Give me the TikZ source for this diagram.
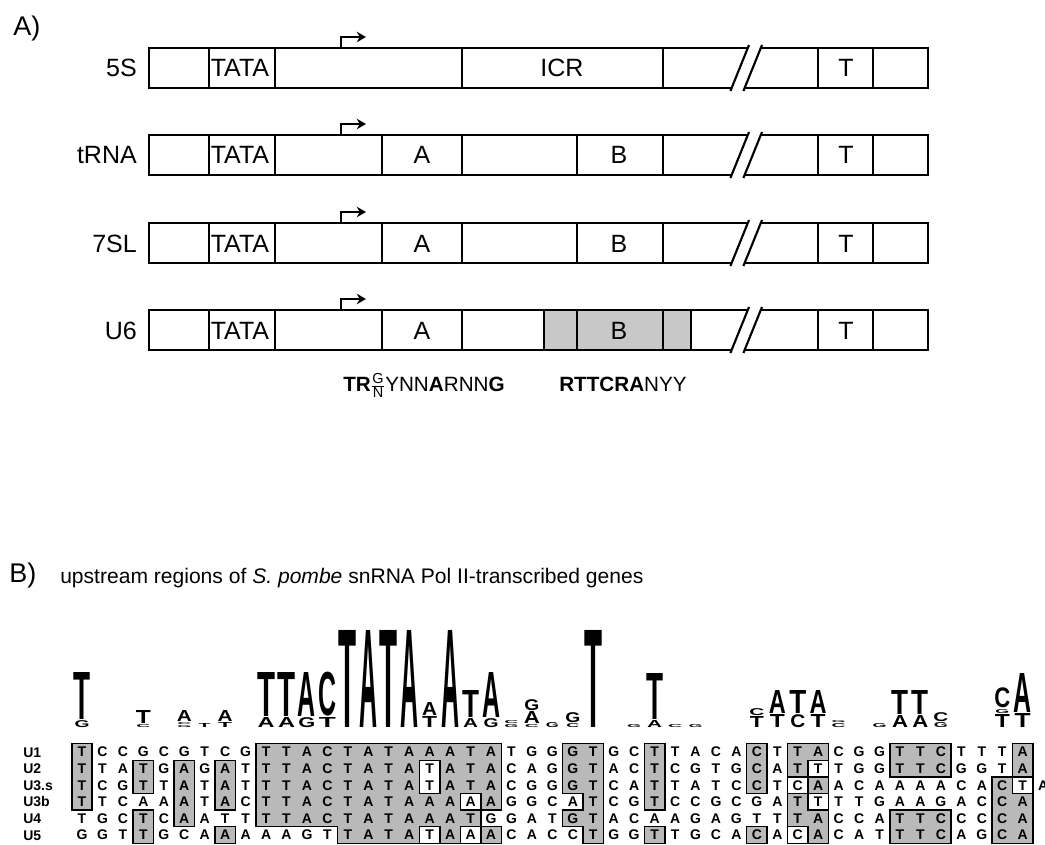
\documentclass[tikz,border=0pt]{standalone}
\usepackage{fontspec}
\usepackage{amsmath}
\usepackage{graphicx}
\setmainfont{Liberation Sans}
\usetikzlibrary{arrows.meta}
\newdimen\pxu \pxu=0.75pt
\definecolor{boxgray}{RGB}{200,200,200}
\definecolor{algray}{RGB}{185,185,185}
\tikzset{
  frame/.style={line width=1.9pt, line join=miter},
  slash/.style={line width=1.6pt},
  divider/.style={line width=1pt},
  genelabel/.style={inner sep=0, font=\fontsize{18.75}{20}\selectfont},
  tssarrow/.style={line width=1pt, -{Stealth[length=7pt,width=8pt]}},
  consensus/.style={inner sep=0, font=\fontsize{15.5}{17}\selectfont},
  panel/.style={inner sep=0, font=\fontsize{20.25}{22}\selectfont},
  title/.style={inner sep=0, font=\fontsize{15.8}{17}\selectfont},
  alnlabel/.style={inner sep=0, font=\fontsize{10.5}{11}\selectfont\bfseries},
  base/.style={inner sep=0, font=\fontsize{10.5}{11}\selectfont\bfseries},
  region/.style={fill=algray, draw=black, line width=1.1pt},
  mismatch/.style={fill=white, draw=black, line width=1.1pt},
}
% one gene: outer frame broken by a double slash, TATA and terminator cells, start arrow
\newcommand\generow[3]{%
  \pgfmathsetmacro\yt{#1}\pgfmathsetmacro\yb{#1+40}%
  \pgfmathsetmacro\ytxt{#1+29}\pgfmathsetmacro\yarr{#1-11}%
  \draw[frame] (747.8,\yt) -- (149,\yt) -- (149,\yb) -- (731.6,\yb);
  \draw[frame] (760.8,\yt) -- (928,\yt) -- (928,\yb) -- (744.6,\yb);
  \draw[slash] (730.4,{\yb+3}) -- (749,{\yt-3});
  \draw[slash] (743.4,{\yb+3}) -- (762,{\yt-3});
  \foreach \xd in {209,275,462,663,818,873} {\draw[divider] (\xd,\yt) -- (\xd,\yb);}
  \node[genelabel, anchor=base east] (lab-#3) at (137,\ytxt) {#2};
  \node[genelabel, anchor=base west] (tata-#3) at (210.5,\ytxt) {TATA};
  \node[genelabel, anchor=base] (term-#3) at (846,\ytxt) {T};
  \coordinate (tss-#3) at (341,\yt);
  \coordinate (tsse-#3) at (366,\yarr);
  \draw[tssarrow] (tss-#3) |- (tsse-#3);
}
% one stretched letter of the sequence logo: column, bottom, height, width, letter
\newcommand\logoglyph[5]{%
  \node[inner sep=0, anchor=south] (logo-#1-#2) at ({82+20.45*#1},{#2-0.5})
    {\resizebox*{#4\pxu}{\dimexpr#3\pxu-1\pxu\relax}{\bfseries #5}};}
\begin{document}
\begin{tikzpicture}[x=0.75pt,y=-0.75pt]
\useasboundingbox (0,0) rectangle (1045,845);
\clip (0,0) rectangle (1045,845);
\fill[white] (0,0) rectangle (1045,845);

% ---------------- panel A ----------------
\node[panel, anchor=base west] (panelA) at (13,36) {A)};

\fill[boxgray] (544,310) rectangle (691,350);

\generow{48}{5S}{fs}
\node[genelabel, anchor=base] (icr) at (562,77) {ICR};

\generow{135}{tRNA}{tr}
\foreach \xd in {382,577} {\draw[divider] (\xd,135) -- (\xd,175);}
\node[genelabel, anchor=base] (boxA-tr) at (422,164) {A};
\node[genelabel, anchor=base] (boxB-tr) at (619,164) {B};

\generow{223}{7SL}{sl}
\foreach \xd in {382,577} {\draw[divider] (\xd,223) -- (\xd,263);}
\node[genelabel, anchor=base] (boxA-sl) at (422,252) {A};
\node[genelabel, anchor=base] (boxB-sl) at (619,252) {B};

\generow{310}{U6}{us}
\foreach \xd in {382,544,577,691} {\draw[divider] (\xd,310) -- (\xd,350);}
\node[genelabel, anchor=base] (boxA-us) at (422,339) {A};
\node[genelabel, anchor=base] (boxB-us) at (619,339) {B};

\node[consensus, anchor=base west] (consA) at (343,391)
  {\textbf{TR}$\genfrac{}{}{0.5pt}{}{\text{G}}{\text{N}}$YNN\textbf{A}RNN\textbf{G}};
\node[consensus, anchor=base west] (consB) at (559,391)
  {\textbf{RTTCRA}NYY};

% ---------------- panel B ----------------
\node[panel, anchor=base west] (panelB) at (9,582) {B)};
\node[title, anchor=base west] (titleB) at (60,583)
  {upstream regions of \textit{S. pombe} snRNA Pol II-transcribed genes};

% sequence logo
\logoglyph{0}{728}{8}{15}{G}
\logoglyph{0}{720}{48}{17}{T}
\logoglyph{3}{728}{4}{14}{C}
\logoglyph{3}{724}{14}{15}{T}
\logoglyph{5}{728}{3}{14}{G}
\logoglyph{5}{725}{3}{14}{C}
\logoglyph{5}{722}{12}{15}{A}
\logoglyph{6}{728}{5}{12}{T}
\logoglyph{7}{728}{6}{14}{T}
\logoglyph{7}{722}{12}{15}{A}
\logoglyph{9}{728}{11}{17}{A}
\logoglyph{9}{717}{45}{18}{T}
\logoglyph{10}{728}{11}{17}{A}
\logoglyph{10}{717}{45}{18}{T}
\logoglyph{11}{728}{11}{17}{G}
\logoglyph{11}{717}{45}{18}{A}
\logoglyph{12}{728}{11}{17}{T}
\logoglyph{12}{717}{45}{18}{C}
\logoglyph{13}{728}{98}{18}{T}
\logoglyph{14}{728}{98}{18}{A}
\logoglyph{15}{728}{98}{18}{T}
\logoglyph{16}{728}{98}{18}{A}
\logoglyph{17}{728}{12}{15}{T}
\logoglyph{17}{716}{14}{15}{A}
\logoglyph{18}{728}{98}{18}{A}
\logoglyph{19}{728}{10}{15}{A}
\logoglyph{19}{718}{28}{17}{T}
\logoglyph{20}{728}{10}{15}{G}
\logoglyph{20}{718}{46}{18}{A}
\logoglyph{21}{728}{4}{14}{G}
\logoglyph{21}{724}{4}{14}{C}
\logoglyph{22}{728}{4}{14}{C}
\logoglyph{22}{724}{13}{16}{A}
\logoglyph{22}{711}{12}{15}{G}
\logoglyph{23}{728}{6}{13}{G}
\logoglyph{24}{728}{5}{13}{C}
\logoglyph{24}{723}{11}{15}{G}
\logoglyph{25}{728}{98}{18}{T}
\logoglyph{27}{728}{4}{14}{G}
\logoglyph{28}{728}{8}{15}{A}
\logoglyph{28}{720}{47}{17}{T}
\logoglyph{29}{728}{4}{14}{C}
\logoglyph{30}{728}{4}{14}{G}
\logoglyph{33}{728}{12}{14}{T}
\logoglyph{33}{716}{8}{15}{C}
\logoglyph{34}{728}{14}{15}{T}
\logoglyph{34}{714}{24}{17}{A}
\logoglyph{35}{728}{14}{15}{C}
\logoglyph{35}{714}{24}{17}{T}
\logoglyph{36}{728}{14}{15}{T}
\logoglyph{36}{714}{24}{17}{A}
\logoglyph{37}{728}{5}{14}{C}
\logoglyph{37}{723}{3}{14}{G}
\logoglyph{39}{728}{5}{14}{G}
\logoglyph{40}{728}{13}{16}{A}
\logoglyph{40}{715}{25}{17}{T}
\logoglyph{41}{728}{13}{16}{A}
\logoglyph{41}{715}{25}{17}{T}
\logoglyph{42}{728}{6}{14}{G}
\logoglyph{42}{722}{10}{15}{C}
\logoglyph{45}{728}{14}{15}{T}
\logoglyph{45}{714}{5}{14}{G}
\logoglyph{45}{709}{21}{16}{C}
\logoglyph{46}{728}{15}{16}{T}
\logoglyph{46}{713}{40}{18}{A}

% row names of the alignment
\foreach \r/\nm in {0/U1,1/U2,2/U3.s,3/U3b,4/U4,5/U5} {
  \node[alnlabel, anchor=base west] (row-\r) at (23,{743.7+16.6*\r+13.3}) {\nm};
}

% alignment: one unit = one column wide and one row high
\begin{scope}[shift={(71.78,743.7)}, x=15.3375pt, y=-12.45pt]
  \filldraw[region] (0,0) rectangle (1,4);
  \filldraw[region] (3,1) rectangle (4,3);
  \filldraw[region] (3,4) rectangle (4,6);
  \filldraw[region] (5,1) rectangle (6,5);
  \filldraw[region] (7,1) rectangle (8,4);
  \filldraw[region] (7,5) rectangle (8,6);
  \filldraw[region] (9,0) -- (21,0) -- (21,4) -- (20,4) -- (20,5) -- (21,5)
     -- (21,6) -- (13,6) -- (13,5) -- (9,5) -- cycle;
  \filldraw[mismatch] (17,1) rectangle (18,3);
  \filldraw[mismatch] (19,3) rectangle (20,4);
  \filldraw[mismatch] (17,5) rectangle (18,6);
  \filldraw[mismatch] (19,5) rectangle (20,6);
  \filldraw[region] (24,0) -- (26,0) -- (26,6) -- (25,6) -- (25,5) -- (24,5)
     -- (24,4) -- (25,4) -- (25,3) -- (24,3) -- cycle;
  \filldraw[region] (28,0) rectangle (29,4);
  \filldraw[region] (28,5) rectangle (29,6);
  \filldraw[region] (33,0) rectangle (34,3);
  \filldraw[region] (33,5) rectangle (34,6);
  \filldraw[region] (35,0) rectangle (37,6);
  \filldraw[mismatch] (36,1) rectangle (37,2);
  \filldraw[mismatch] (35,2) rectangle (36,3);
  \filldraw[mismatch] (36,3) rectangle (37,4);
  \filldraw[mismatch] (35,5) rectangle (36,6);
  \filldraw[region] (40,0) rectangle (43,2);
  \filldraw[region] (40,4) rectangle (43,6);
  \filldraw[region] (46,0) -- (47,0) -- (47,6) -- (45,6) -- (45,2) -- (46,2) -- cycle;
  \filldraw[mismatch] (46,2) rectangle (47,3);

  \foreach \r/\s in {
    0/{T,C,C,G,C,G,T,C,G,T,T,A,C,T,A,T,A,A,A,T,A,T,G,G,G,T,G,C,T,T,A,C,A,C,T,T,A,C,G,G,T,T,C,T,T,T,A},
    1/{T,T,A,T,G,A,G,A,T,T,T,A,C,T,A,T,A,T,A,T,A,C,A,G,G,T,A,C,T,C,G,T,G,C,A,T,T,T,G,G,T,T,C,G,G,T,A},
    2/{T,C,G,T,T,A,T,A,T,T,T,A,C,T,A,T,A,T,A,T,A,C,G,G,G,T,C,A,T,T,A,T,C,C,T,C,A,A,C,A,A,A,A,C,A,C,T,A},
    3/{T,T,C,A,A,A,T,A,C,T,T,A,C,T,A,T,A,A,A,A,A,G,G,C,A,T,C,G,T,C,C,G,C,G,A,T,T,T,T,G,A,A,G,A,C,C,A},
    4/{T,G,C,T,C,A,A,T,T,T,T,A,C,T,A,T,A,A,A,T,G,G,A,T,G,T,A,C,A,A,G,A,G,T,T,T,A,C,C,A,T,T,C,C,C,C,A},
    5/{G,G,T,T,G,C,A,A,A,A,A,G,T,T,A,T,A,T,A,A,A,C,A,C,C,T,G,G,T,T,G,C,A,C,A,C,A,C,A,T,T,T,C,A,G,C,A}} {
    \foreach \ch [count=\c from 0] in \s {
      \node[base, anchor=base] (b-\r-\c) at (\c+0.5,\r+0.8) {\ch};
    }
  }
\end{scope}
\end{tikzpicture}
\end{document}
